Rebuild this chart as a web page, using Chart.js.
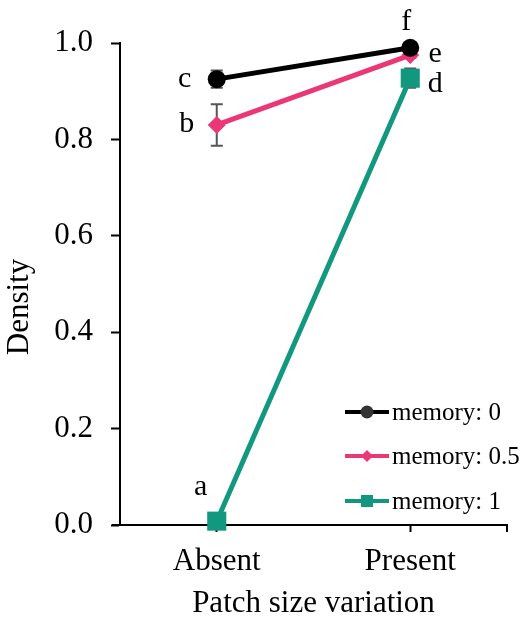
<!DOCTYPE html>
<html>
<head>
<meta charset="utf-8">
<script src="https://cdn.jsdelivr.net/npm/chart.js@4/dist/chart.umd.min.js"></script>
<style>
  html, body { margin: 0; padding: 0; background: #fff; }
  canvas { display: block; }
</style>
</head>
<body>
<canvas id="chart" width="525" height="623"></canvas>
<script>
// Patch size variation categories
const categories = ['Absent', 'Present'];

// Mean density for each memory level
const memory0   = [0.925, 0.990];
const memory05  = [0.830, 0.975];
const memory1   = [0.008, 0.927];

// Error half-widths (± SE) for each memory level
const err0  = [0.018, 0.006];
const err05 = [0.043, 0.006];
const err1  = [0.003, 0.020];

// Significance-group letters for each point
const letters0  = ['c', 'f'];
const letters05 = ['b', 'e'];
const letters1  = ['a', 'd'];

const seriesLabels = ['memory: 0', 'memory: 0.5', 'memory: 1'];
const yTicks = [0, 0.2, 0.4, 0.6, 0.8, 1.0];
const yTitle = 'Density';
const xTitle = 'Patch size variation';

const SERIF = "'Liberation Serif', 'Times New Roman', serif";
const BLACK = '#000000';
const PINK = '#EC3777';
const TEAL = '#12987F';

const errorSets = [err0, err05, err1];
const letterSets = [letters0, letters05, letters1];
// label offsets (dx, baseline dy) per series and category
const letterOffsets = [
  [[-32, 8], [-4, -18]],
  [[-30, 7], [25, 7]],
  [[-16, -26], [25, 14]]
];

const errorBarPlugin = {
  id: 'errorBars',
  beforeDatasetsDraw(chart) {
    const ctx = chart.ctx;
    const y = chart.scales.y;
    ctx.save();
    ctx.strokeStyle = '#555555';
    ctx.lineWidth = 2;
    chart.data.datasets.forEach((ds, di) => {
      const meta = chart.getDatasetMeta(di);
      meta.data.forEach((pt, i) => {
        const v = ds.data[i];
        const e = errorSets[di][i];
        const top = y.getPixelForValue(v + e);
        const bot = y.getPixelForValue(v - e);
        ctx.beginPath();
        ctx.moveTo(pt.x, top); ctx.lineTo(pt.x, bot);
        ctx.moveTo(pt.x - 6, top); ctx.lineTo(pt.x + 6, top);
        ctx.moveTo(pt.x - 6, bot); ctx.lineTo(pt.x + 6, bot);
        ctx.stroke();
      });
    });
    ctx.restore();
  }
};

const lettersPlugin = {
  id: 'groupLetters',
  afterDatasetsDraw(chart) {
    const ctx = chart.ctx;
    ctx.save();
    ctx.fillStyle = '#000';
    ctx.font = '30px ' + SERIF;
    ctx.textAlign = 'center';
    ctx.textBaseline = 'alphabetic';
    chart.data.datasets.forEach((ds, di) => {
      const meta = chart.getDatasetMeta(di);
      meta.data.forEach((pt, i) => {
        const off = letterOffsets[di][i];
        ctx.fillText(letterSets[di][i], pt.x + off[0], pt.y + off[1]);
      });
    });
    ctx.restore();
  }
};

function drawMarker(ctx, style, x, y, r, color) {
  ctx.fillStyle = color;
  ctx.beginPath();
  if (style === 'circle') {
    ctx.arc(x, y, r, 0, Math.PI * 2);
  } else if (style === 'rectRot') {
    ctx.moveTo(x, y - r); ctx.lineTo(x + r, y); ctx.lineTo(x, y + r); ctx.lineTo(x - r, y);
    ctx.closePath();
  } else {
    ctx.rect(x - r, y - r, 2 * r, 2 * r);
  }
  ctx.fill();
}

const legendPlugin = {
  id: 'lineLegend',
  afterDraw(chart) {
    const ctx = chart.ctx;
    const a = chart.chartArea;
    const x0 = a.right - 162;
    const rowsY = [a.bottom - 113, a.bottom - 69, a.bottom - 24];
    const markerR = [6.5, 6, 6];
    const markerColor = ['#333333', PINK, TEAL];
    ctx.save();
    ctx.font = '25px ' + SERIF;
    ctx.textBaseline = 'middle';
    ctx.textAlign = 'left';
    chart.data.datasets.forEach((ds, di) => {
      const yy = rowsY[di];
      ctx.strokeStyle = ds.borderColor;
      ctx.lineWidth = 4;
      ctx.beginPath();
      ctx.moveTo(x0, yy); ctx.lineTo(x0 + 44, yy);
      ctx.stroke();
      drawMarker(ctx, ds.pointStyle, x0 + 22, yy, markerR[di], markerColor[di]);
      ctx.fillStyle = '#000';
      ctx.fillText(ds.label, x0 + 47, yy + 1);
    });
    ctx.restore();
  }
};

// extra axis marks and the vertical axis title, set slightly below centre
const axisExtras = {
  id: 'axisExtras',
  afterDraw(chart) {
    const ctx = chart.ctx;
    const a = chart.chartArea;
    ctx.save();
    ctx.strokeStyle = '#000';
    ctx.lineWidth = 2;
    ctx.beginPath();
    ctx.moveTo(a.right, a.bottom); ctx.lineTo(a.right, a.bottom + 7);
    ctx.moveTo(a.left - 8, a.bottom); ctx.lineTo(a.left, a.bottom);
    ctx.stroke();
    ctx.translate(20, (a.top + a.bottom) / 2 + 23);
    ctx.rotate(-Math.PI / 2);
    ctx.fillStyle = '#000';
    ctx.font = '31px ' + SERIF;
    ctx.textAlign = 'center';
    ctx.textBaseline = 'middle';
    ctx.fillText(yTitle, 0, 0);
    ctx.restore();
  }
};

const common = { borderWidth: 5, pointBorderWidth: 0, fill: false, tension: 0, clip: false };

new Chart(document.getElementById('chart'), {
  type: 'line',
  data: {
    labels: categories,
    datasets: [
      Object.assign({}, common, {
        label: seriesLabels[0], data: memory0,
        borderColor: BLACK, backgroundColor: BLACK,
        pointStyle: 'circle', pointRadius: 9, pointBackgroundColor: BLACK, pointBorderColor: BLACK
      }),
      Object.assign({}, common, {
        label: seriesLabels[1], data: memory05,
        borderColor: PINK, backgroundColor: PINK,
        pointStyle: 'rectRot', pointRadius: 9, pointBackgroundColor: PINK, pointBorderColor: PINK
      }),
      Object.assign({}, common, {
        label: seriesLabels[2], data: memory1,
        borderColor: TEAL, backgroundColor: TEAL,
        pointStyle: 'rect', pointRadius: 13.5, pointBackgroundColor: TEAL, pointBorderColor: TEAL
      })
    ]
  },
  options: {
    responsive: false,
    animation: false,
    devicePixelRatio: 1,
    layout: { padding: { top: 43, right: 18, left: 40, bottom: 0 } },
    plugins: { legend: { display: false }, tooltip: { enabled: false } },
    scales: {
      x: {
        type: 'category',
        offset: true,
        afterFit(s) { s.height = 98; },
        grid: { offset: false, drawOnChartArea: false, drawTicks: true, tickLength: 7, tickWidth: 2, tickColor: '#000' },
        border: { color: '#000', width: 2 },
        ticks: { color: '#000', font: { family: SERIF, size: 31 }, padding: 11, maxRotation: 0 },
        title: { display: true, text: xTitle, color: '#000', font: { family: SERIF, size: 31 }, padding: { top: 0, bottom: 1 } }
      },
      y: {
        min: 0, max: 1,
        afterFit(s) { s.width = 80; },
        afterBuildTicks(s) { s.ticks = yTicks.map(v => ({ value: v })); },
        grid: { drawOnChartArea: false, drawTicks: true, tickLength: 9, tickWidth: 2, tickColor: '#000' },
        border: { color: '#000', width: 2 },
        ticks: { color: '#000', font: { family: SERIF, size: 31 }, padding: 18, callback: v => Number(v).toFixed(1) }
      }
    }
  },
  plugins: [errorBarPlugin, lettersPlugin, legendPlugin, axisExtras]
});
</script>
</body>
</html>
